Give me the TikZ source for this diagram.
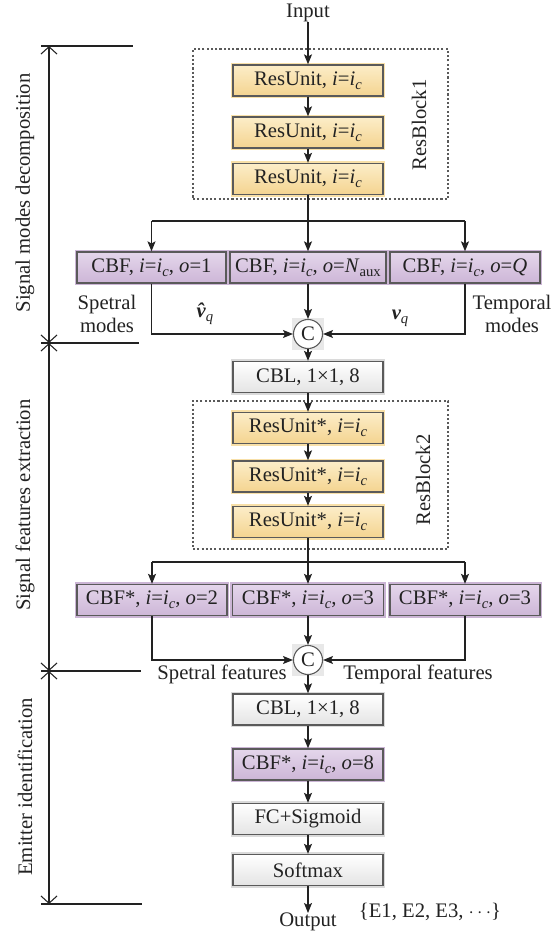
\documentclass[tikz,border=0pt]{standalone}
\usepackage{fontspec}
\setmainfont{Liberation Serif}
\usetikzlibrary{arrows.meta}
\definecolor{ink}{HTML}{222222}
\definecolor{edge}{HTML}{5A5A5A}
\definecolor{yelT}{HTML}{FCEDC8}
\definecolor{yelB}{HTML}{F4D490}
\definecolor{yelH}{HTML}{F8E0A8}
\definecolor{purT}{HTML}{E4D6EB}
\definecolor{purB}{HTML}{CDB6D7}
\definecolor{purH}{HTML}{CBB5D5}
\definecolor{gryT}{HTML}{FFFFFF}
\definecolor{gryB}{HTML}{E4E4E4}
\definecolor{gryH}{HTML}{DADADA}
\newcommand\lowsub[1]{\raisebox{-0.45ex}{\fontsize{11}{11}\selectfont #1}}
\newcommand\ii{\textit{i}=\textit{i}\lowsub{\textit{c}}}
\begin{document}
\begin{tikzpicture}[x=0.75pt,y=-0.75pt,
  font=\fontsize{15.5}{17.5}\selectfont, text=ink,
  box/.style={rectangle, draw=edge, line width=1pt, inner sep=0pt, minimum height=31*0.75pt},
  yel/.style={box, top color=yelT, bottom color=yelB, preaction={draw=yelH, line width=3.4pt}},
  pur/.style={box, top color=purT, bottom color=purB, preaction={draw=purH, line width=3.4pt}},
  gry/.style={box, top color=gryT, bottom color=gryB, preaction={draw=gryH, line width=3.4pt}},
  dotbox/.style={rectangle, draw=edge, line width=0.9pt, dash pattern=on 1.6pt off 1.6pt, inner sep=0pt},
  cnode/.style={circle, draw=edge, line width=0.8pt, fill=white, minimum size=29*0.75pt, inner sep=0pt},
  sqbg/.style={rectangle, draw=none, fill=black!9, minimum size=32*0.75pt, inner sep=0pt},
  arr/.style={draw=ink, line width=0.9pt, -{Stealth[length=7.5pt,width=6pt,inset=1.6pt]}},
  ln/.style={draw=ink, line width=0.9pt},
  dim/.style={draw=ink, line width=0.8pt, {Straight Barb[length=5.5pt,width=12pt]}-{Straight Barb[length=5.5pt,width=12pt]}},
  lbl/.style={inner sep=0pt, align=center}
]
\useasboundingbox (0,0) rectangle (560,932);

% input
\node[lbl] (in) at (308,13) {Input};

% ResBlock1
\node[dotbox, minimum width=255*0.75pt, minimum height=150*0.75pt] (rb1) at (320.5,124) {};
\node[lbl, rotate=90] (rb1l) at (419,125) {ResBlock1};
\node[yel, minimum width=150*0.75pt] (r1) at (308,80.5) {ResUnit, \ii};
\node[yel, minimum width=150*0.75pt] (r2) at (308,132.5) {ResUnit, \ii};
\node[yel, minimum width=150*0.75pt] (r3) at (308,179) {ResUnit, \ii};

% CBF row
\node[pur, minimum width=149*0.75pt] (f1) at (151.5,267.5) {CBF, \ii, \textit{o}=1};
\node[pur, minimum width=156*0.75pt] (f2) at (308,267.5) {CBF, \ii, \textit{o}=\textit{N}\lowsub{aux}};
\node[pur, minimum width=150*0.75pt] (f3) at (465,267.5) {CBF, \ii, \textit{o}=\textit{Q}};

\node[lbl] (spm) at (107,314) {Spetral\\modes};
\node[lbl] (tpm) at (512,314) {Temporal\\modes};
\node[lbl] (vh) at (205,314) {{\bfseries\itshape\^{v}}\lowsub{\textit{q}}};
\node[lbl] (vq) at (400,318) {{\bfseries\itshape v}\lowsub{\textit{q}}};

\node[sqbg] (c1bg) at (308,334) {};
\node[cnode] (c1) at (308,334) {C};

\node[gry, minimum width=150*0.75pt] (cbl1) at (308,377) {CBL, 1×1, 8};

% ResBlock2
\node[dotbox, minimum width=255*0.75pt, minimum height=148*0.75pt] (rb2) at (320.5,475) {};
\node[lbl, rotate=90] (rb2l) at (423,480) {ResBlock2};
\node[yel, minimum width=150*0.75pt] (u1) at (308,428) {ResUnit*, \ii};
\node[yel, minimum width=150*0.75pt] (u2) at (308,476.5) {ResUnit*, \ii};
\node[yel, minimum width=150*0.75pt] (u3) at (308,522) {ResUnit*, \ii};

\node[pur, minimum width=150*0.75pt] (g1) at (152,600) {CBF*, \ii, \textit{o}=2};
\node[pur, minimum width=151*0.75pt] (g2) at (308,600) {CBF*, \ii, \textit{o}=3};
\node[pur, minimum width=150*0.75pt] (g3) at (465,600) {CBF*, \ii, \textit{o}=3};

\node[sqbg] (c2bg) at (308,660) {};
\node[cnode] (c2) at (308,660) {C};
\node[lbl] (spf) at (222,674) {Spetral features};
\node[lbl] (tpf) at (418,674) {Temporal features};

\node[gry, minimum width=150*0.75pt] (cbl2) at (308,709.5) {CBL, 1×1, 8};
\node[pur, minimum width=150*0.75pt] (g8) at (308,764.5) {CBF*, \ii, \textit{o}=8};
\node[gry, minimum width=150*0.75pt] (fc) at (308,819) {FC+Sigmoid};
\node[gry, minimum width=150*0.75pt] (sm) at (308,870) {Softmax};
\node[lbl, anchor=north] (out) at (308,913) {Output};
\node[lbl] (cls) at (430,912) {\{E1, E2, E3, $\cdots$\}};

% connectors
\draw[arr] (in) -- (r1);
\draw[arr] (r1) -- (r2);
\draw[arr] (r2) -- (r3);
\draw[arr] (r3) -- (f2);
\coordinate (s1) at (308,221);
\draw[ln] (s1 -| f1) -- (s1 -| f3);
\draw[arr] (s1 -| f1) -- (f1);
\draw[arr] (s1 -| f3) -- (f3);
\draw[arr] (f1) |- (c1);
\draw[arr] (f3) |- (c1);
\draw[arr] (f2) -- (c1);
\draw[arr] (c1) -- (cbl1);
\draw[arr] (cbl1) -- (u1);
\draw[arr] (u1) -- (u2);
\draw[arr] (u2) -- (u3);
\draw[arr] (u3) -- (g2);
\coordinate (s2) at (308,562);
\draw[ln] (s2 -| g1) -- (s2 -| g3);
\draw[arr] (s2 -| g1) -- (g1);
\draw[arr] (s2 -| g3) -- (g3);
\draw[arr] (g1) |- (c2);
\draw[arr] (g3) |- (c2);
\draw[arr] (g2) -- (c2);
\draw[arr] (c2) -- (cbl2);
\draw[arr] (cbl2) -- (g8);
\draw[arr] (g8) -- (fc);
\draw[arr] (fc) -- (sm);
\draw[arr] (sm) -- (out);

% dimension lines
\coordinate (m0) at (49,46);
\coordinate (m1) at (49,343);
\coordinate (m2) at (49,671);
\coordinate (m3) at (49,904);
\draw[dim] (m0) -- (m1);
\draw[dim] (m1) -- (m2);
\draw[dim] (m2) -- (m3);
\draw[ln] ([xshift=-8*0.75pt]m0) -- ++(92,0);
\draw[ln] ([xshift=-8*0.75pt]m1) -- ++(98,0);
\draw[ln] ([xshift=-8*0.75pt]m2) -- ++(100,0);
\draw[ln] ([xshift=-8*0.75pt]m3) -- ++(101,0);
\node[lbl, rotate=90] (d1) at (25,193) {Signal modes decomposition};
\node[lbl, rotate=90] (d2) at (25,505) {Signal features extraction};
\node[lbl, rotate=90] (d3) at (25,787) {Emitter identification};
\end{tikzpicture}
\end{document}
